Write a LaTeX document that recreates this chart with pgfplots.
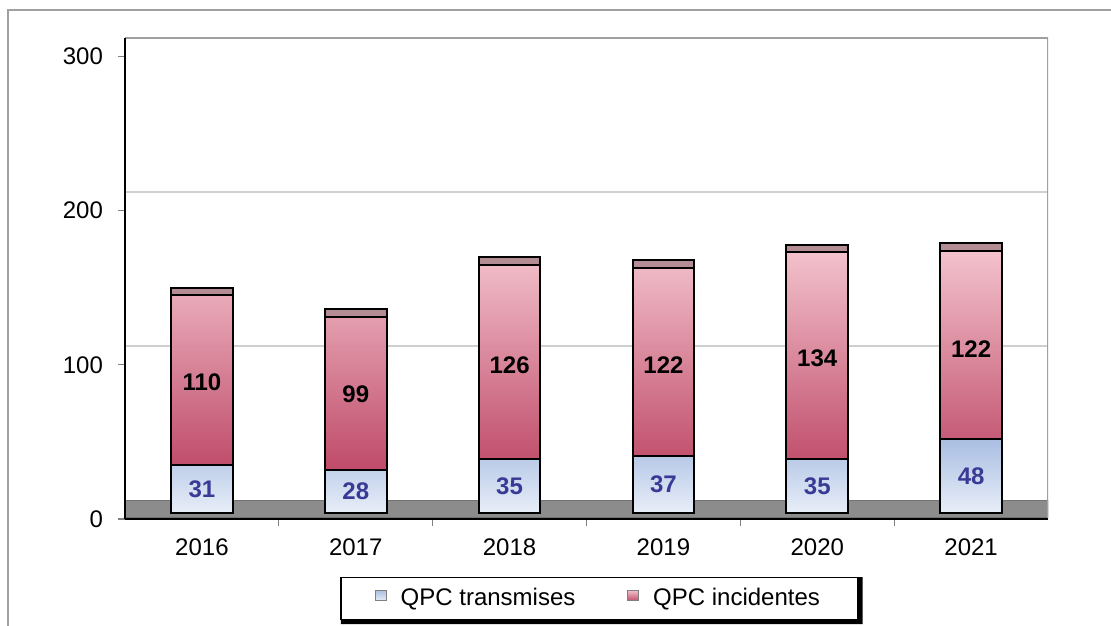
\documentclass[border=0pt]{standalone}
\usepackage{pgfplots}
\pgfplotsset{compat=1.18}
\usepackage{fontspec}
\setmainfont{Liberation Sans}
\definecolor{blueT}{HTML}{A9BEE2}
\definecolor{blueB}{HTML}{E8EEF8}
\definecolor{pinkT}{HTML}{F3C2CC}
\definecolor{pinkB}{HTML}{BF4B69}
\definecolor{capC}{HTML}{B38C94}
\definecolor{floorC}{HTML}{8C8C8C}
\definecolor{lblBlue}{HTML}{3A3A96}
\definecolor{gridC}{HTML}{CFCFCF}
\definecolor{frameC}{HTML}{A0A0A0}
\pgfplotsset{
  base/.style={
    scale only axis, width=461.5pt, height=240.5pt,
    at={(62.5pt,53pt)}, anchor=south west,
    xmin=-0.5, xmax=5.5, ymin=0, ymax=312,
  }
}
\begin{document}
\begin{tikzpicture}
\useasboundingbox (0,0) rectangle (555.5pt,312.5pt);
\draw[frameC, line width=0.8pt] (4pt,-2pt) -- (4pt,307.5pt) -- (560pt,307.5pt);
% background: frame, ticks, floor, gridlines
\begin{axis}[base, axis on top,
  axis lines=left, axis line style={-, line width=0.8pt, black},
  xtick={0.5,1.5,2.5,3.5,4.5}, xticklabels={},
  extra x ticks={0,1,2,3,4,5},
  extra x tick labels={2016,2017,2018,2019,2020,2021},
  extra x tick style={major tick length=0pt},
  ytick={0,100,200,300},
  tick align=outside, major tick length=3.5pt,
  tick style={gray, line width=0.6pt},
  ticklabel style={font=\fontsize{12}{14}\selectfont},
  /pgf/number format/assume math mode=true,
  xticklabel style={yshift=-6.5pt},
  yticklabel style={xshift=-4pt},
]
\addplot[fill=floorC, draw=black!55, line width=0.6pt] coordinates {(-0.5,1) (5.5,1) (5.5,12) (-0.5,12) (-0.5,1)};
\addplot[gridC, line width=1pt] coordinates {(-0.5,112) (5.5,112)};
\addplot[gridC, line width=1pt] coordinates {(-0.5,212) (5.5,212)};
\addplot[frameC, line width=0.8pt] coordinates {(-0.5,312) (5.5,312) (5.5,0)};
\end{axis}
% bars
\begin{axis}[base, hide axis, ybar stacked, bar width=0.4,
  legend style={name=leg, at={(0.514,-0.165)}, anchor=center, legend columns=2,
    draw=black, line width=0.6pt, fill=white,
    font=\fontsize{12}{14}\selectfont,
    inner xsep=17pt, inner ysep=3.5pt,
    /tikz/every odd column/.append style={column sep=5pt},
    /tikz/every even column/.append style={column sep=24pt}},
]
\addplot[draw=none, fill=none, forget plot] coordinates {(0,4) (1,4) (2,4) (3,4) (4,4) (5,4)};
\addplot[draw=black, line width=1pt, top color=blueT, bottom color=blueB,
  legend image code/.code={\draw[fill=blueT!75!white, draw=gray, line width=0.5pt] (0pt,-1.3pt) rectangle (5.4pt,4.1pt);}]
  coordinates {(0,31) (1,28) (2,35) (3,37) (4,35) (5,48)};
\addlegendentry{QPC transmises}
\addplot[draw=black, line width=1pt, top color=pinkT, bottom color=pinkB,
  legend image code/.code={\draw[fill=pinkB!80!white, draw=gray, line width=0.5pt] (0pt,-1.3pt) rectangle (5.4pt,4.1pt);}]
  coordinates {(0,110) (1,99) (2,126) (3,122) (4,134) (5,122)};
\addlegendentry{QPC incidentes}
\addplot[draw=black, line width=1pt, fill=capC, forget plot] coordinates {(0,5) (1,5) (2,5) (3,5) (4,5) (5,5)};
\end{axis}
\fill[black] ([xshift=0.3pt]leg.south west) -- ([xshift=0.3pt,yshift=-2pt]leg.south west)
  -- ([xshift=2pt,yshift=-2pt]leg.south east) -- ([xshift=2pt,yshift=-0.3pt]leg.north east)
  -- ([yshift=-0.3pt]leg.north east) -- (leg.south east) -- cycle;
% data labels
\begin{axis}[base, hide axis]
\addplot[draw=none, mark=none, point meta=explicit symbolic, nodes near coords,
  every node near coord/.append style={anchor=center, text=lblBlue, font=\fontsize{12}{14}\selectfont\bfseries}]
  coordinates {(0,19.5)[31] (1,18)[28] (2,21.5)[35] (3,22.5)[37] (4,21.5)[35] (5,28)[48]};
\addplot[draw=none, mark=none, point meta=explicit symbolic, nodes near coords,
  every node near coord/.append style={anchor=center, text=black, font=\fontsize{12}{14}\selectfont\bfseries}]
  coordinates {(0,89)[110] (1,81)[99] (2,100)[126] (3,100)[122] (4,104)[134] (5,110)[122]};
\end{axis}
\end{tikzpicture}
\end{document}
